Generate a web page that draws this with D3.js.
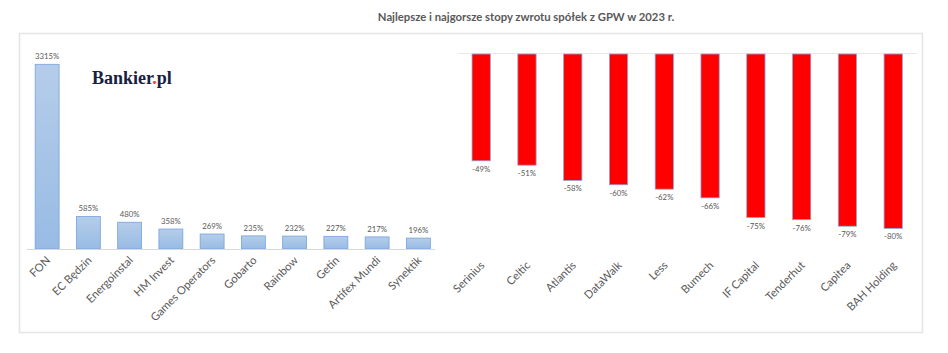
<!DOCTYPE html>
<html>
<head>
<meta charset="utf-8">
<script src="https://cdn.jsdelivr.net/npm/d3@7"></script>
<style>
  body { margin: 0; background: #fff; }
  svg { display: block; font-family: Lato, "Open Sans", sans-serif; }
</style>
</head>
<body>
<div id="chartDiv"></div>
<script>
var bestNames = ["FON", "EC Będzin", "Energoinstal", "HM Invest", "Games Operators", "Gobarto", "Rainbow", "Getin", "Artifex Mundi", "Synektik"];
var bestValues = [3315, 585, 480, 358, 269, 235, 232, 227, 217, 196];

var worstNames = ["Serinius", "Celtic", "Atlantis", "DataWalk", "Less", "Bumech", "IF Capital", "Tenderhut", "Capitea", "BAH Holding"];
var worstValues = [-49, -51, -58, -60, -62, -66, -75, -76, -79, -80];

var title = "Najlepsze i najgorsze stopy zwrotu spółek z GPW w 2023 r.";

var width = 948, height = 353;
var textColor = "#595959";

var svg = d3.select("#chartDiv").append("svg")
    .attr("width", width)
    .attr("height", height);

var defs = svg.append("defs");
var grad = defs.append("linearGradient")
    .attr("id", "blueGrad")
    .attr("x1", 0).attr("y1", 0).attr("x2", 0).attr("y2", 1);
grad.append("stop").attr("offset", "0%").attr("stop-color", "#b5cdea");
grad.append("stop").attr("offset", "100%").attr("stop-color", "#98bbe4");

// outer frame
svg.append("rect")
    .attr("x", 19.5).attr("y", 33.5)
    .attr("width", 903).attr("height", 299)
    .attr("fill", "none")
    .attr("stroke", "#e4e4e4")
    .attr("stroke-width", 1.5);

// title
svg.append("text")
    .attr("x", 526).attr("y", 21)
    .attr("text-anchor", "middle")
    .attr("font-size", 11.3)
    .attr("font-weight", "bold")
    .attr("fill", textColor)
    .text(title);

// logo
var logo = svg.append("text")
    .attr("x", 92).attr("y", 84)
    .attr("font-family", "'Liberation Serif', 'DejaVu Serif', serif")
    .attr("font-weight", "bold")
    .attr("font-size", 18)
    .attr("fill", "#17203f");
logo.append("tspan").text("Bankier");
logo.append("tspan").attr("fill", "#e8452c").text(".");
logo.append("tspan").text("pl");

// ---- left chart: best returns ----
var x1 = d3.scaleBand()
    .domain(bestNames)
    .range([26.5, 439])
    .paddingInner(0.42)
    .paddingOuter(0.21);

var y1 = d3.scaleLinear()
    .domain([0, 3500])
    .range([249, 54]);

var left = svg.append("g");

left.selectAll(".bar")
    .data(bestValues)
    .enter().append("rect")
    .attr("class", "bar")
    .attr("x", function (d, i) { return x1(bestNames[i]); })
    .attr("y", function (d) { return y1(d); })
    .attr("width", x1.bandwidth())
    .attr("height", function (d) { return y1(0) - y1(d); })
    .attr("fill", "url(#blueGrad)")
    .attr("stroke", "#74a3dc")
    .attr("stroke-width", 0.8);

left.append("line")
    .attr("x1", 27).attr("x2", 435)
    .attr("y1", y1(0) + 0.5).attr("y2", y1(0) + 0.5)
    .attr("stroke", "#d9d9d9");

left.selectAll(".val")
    .data(bestValues)
    .enter().append("text")
    .attr("class", "val")
    .attr("x", function (d, i) { return x1(bestNames[i]) + x1.bandwidth() / 2; })
    .attr("y", function (d) { return y1(d) - 5; })
    .attr("text-anchor", "middle")
    .attr("font-size", 7.8)
    .attr("fill", textColor)
    .text(function (d) { return d + "%"; });

left.selectAll(".cat")
    .data(bestNames)
    .enter().append("text")
    .attr("class", "cat")
    .attr("transform", function (d) {
        return "translate(" + (x1(d) + x1.bandwidth() / 2 + 4) + "," + (y1(0) + 12) + ") rotate(-45)";
    })
    .attr("text-anchor", "end")
    .attr("font-size", 11.2)
    .attr("fill", textColor)
    .text(function (d) { return d; });

// ---- right chart: worst returns ----
var x2 = d3.scaleBand()
    .domain(worstNames)
    .range([458.3, 916.1])
    .paddingInner(0.6)
    .paddingOuter(0.3);

var y2 = d3.scaleLinear()
    .domain([-100, 0])
    .range([272, 54]);

var right = svg.append("g");

right.append("line")
    .attr("x1", 458).attr("x2", 917)
    .attr("y1", y2(0) - 0.5).attr("y2", y2(0) - 0.5)
    .attr("stroke", "#e8e8e8");

right.selectAll(".bar")
    .data(worstValues)
    .enter().append("rect")
    .attr("class", "bar")
    .attr("x", function (d, i) { return x2(worstNames[i]); })
    .attr("y", y2(0))
    .attr("width", x2.bandwidth())
    .attr("height", function (d) { return y2(d) - y2(0); })
    .attr("fill", "#ff0000")
    .attr("stroke", "#8fa9dc")
    .attr("stroke-width", 0.8);

right.selectAll(".val")
    .data(worstValues)
    .enter().append("text")
    .attr("class", "val")
    .attr("x", function (d, i) { return x2(worstNames[i]) + x2.bandwidth() / 2; })
    .attr("y", function (d) { return y2(d) + 11; })
    .attr("text-anchor", "middle")
    .attr("font-size", 7.8)
    .attr("fill", textColor)
    .text(function (d) { return d + "%"; });

right.selectAll(".cat")
    .data(worstNames)
    .enter().append("text")
    .attr("class", "cat")
    .attr("transform", function (d) {
        return "translate(" + (x2(d) + x2.bandwidth() / 2 + 4) + ",266) rotate(-45)";
    })
    .attr("text-anchor", "end")
    .attr("font-size", 11.2)
    .attr("fill", textColor)
    .text(function (d) { return d; });
</script>
</body>
</html>
